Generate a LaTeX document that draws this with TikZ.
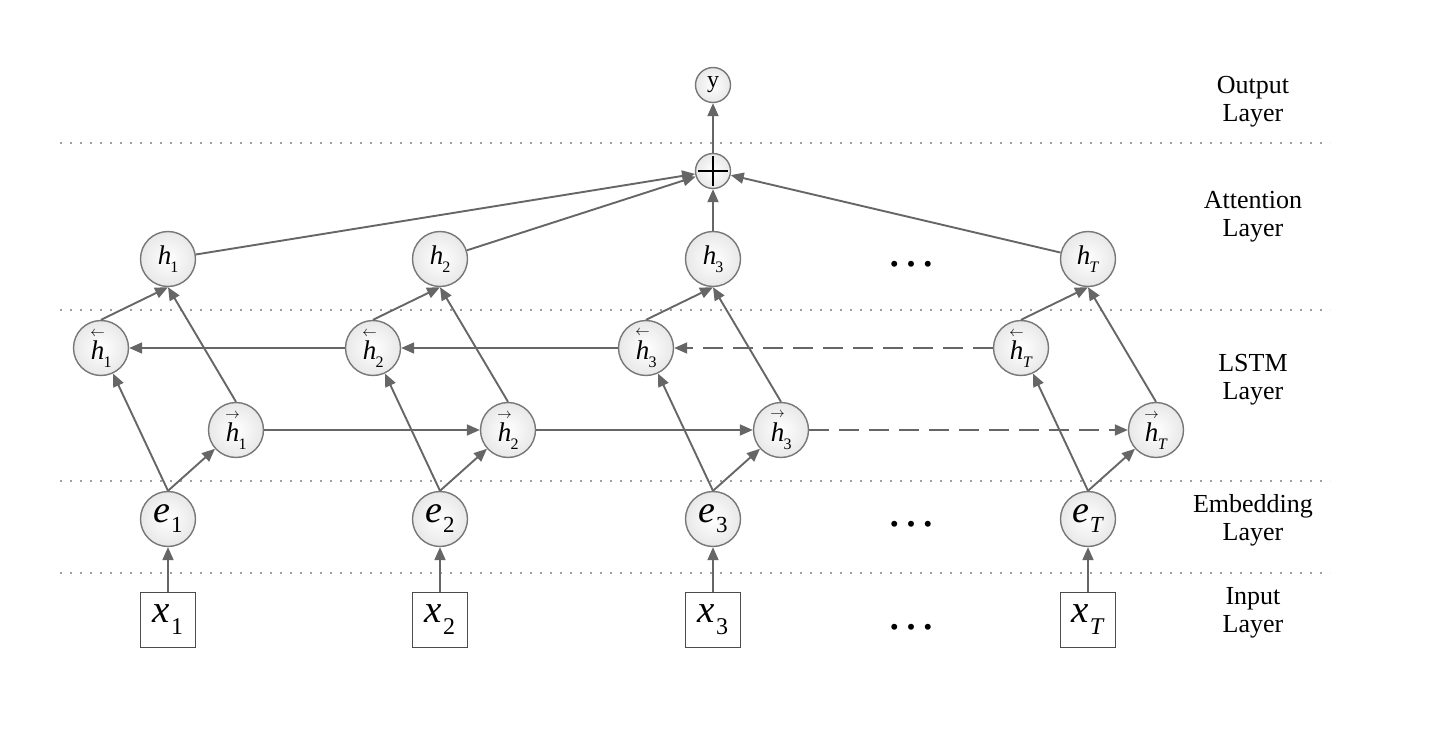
\documentclass[tikz,border=0pt]{standalone}
\usepackage{amsmath}
\usepackage{fontspec}
\setmainfont{Liberation Serif}
\usetikzlibrary{arrows.meta}
\definecolor{ln}{HTML}{666666}
\definecolor{cb}{HTML}{777777}
\newcommand{\hsub}[1]{\textit{h}\kern-1pt\raisebox{-8pt}{\fontsize{16}{16}\selectfont #1}}
\newcommand{\hbw}[1]{$\overset{\scriptscriptstyle\leftarrow}{\textit{h}}$\kern-1pt\raisebox{-8pt}{\fontsize{16}{16}\selectfont #1}}
\newcommand{\hfw}[1]{$\overset{\scriptscriptstyle\rightarrow}{\textit{h}}$\kern-1pt\raisebox{-8pt}{\fontsize{16}{16}\selectfont #1}}
\newcommand{\esub}[1]{\textit{e}\kern1pt\raisebox{-10pt}{\fontsize{23}{23}\selectfont #1}}
\newcommand{\xsub}[1]{\textit{x}\kern1pt\raisebox{-12pt}{\fontsize{24}{24}\selectfont #1}}
\begin{document}
\begin{tikzpicture}[x=1pt,y=-1pt,
  conn/.style={draw=ln, line width=1.9pt, -{Triangle[length=13pt,width=11pt]}},
  dconn/.style={conn, dash pattern=on 20pt off 10pt},
  cn/.style={circle, draw=cb, line width=1.4pt, inner color=white, outer color=gray!18, minimum size=55pt, inner sep=0pt, font=\fontsize{27}{28}\selectfont},
  en/.style={cn, font=\fontsize{38}{40}\selectfont},
  sn/.style={circle, draw=cb, line width=1.4pt, inner color=white, outer color=gray!18, minimum size=35pt, inner sep=0pt, font=\fontsize{24}{24}\selectfont},
  xn/.style={rectangle, draw=black!70, line width=1.3pt, fill=white, minimum size=55pt, inner sep=0pt, font=\fontsize{39}{40}\selectfont},
  sep/.style={draw=gray!75, line width=1.6pt, dash pattern=on 1.6pt off 8.4pt},
  lab/.style={align=center, font=\fontsize{26}{28}\selectfont},
  dots/.style={inner sep=0pt, font=\fontsize{50}{50}\selectfont}
]
\useasboundingbox (0,0) rectangle (1440,746);
% separators
\foreach \yy/\nm in {143/s1,310/s2,481/s3,573/s4}{
  \coordinate (\nm a) at (60,\yy);
  \coordinate (\nm b) at (1330,\yy);
  \draw[sep] (\nm a) -- (\nm b);
}
% labels
\node[lab] (lout) at (1253,102) {Output\\Layer};
\node[lab] (latt) at (1253,217) {Attention\\Layer};
\node[lab] (llstm) at (1253,380) {LSTM\\Layer};
\node[lab] (lemb) at (1253,520) {Embedding\\Layer};
\node[lab] (linp) at (1253,613) {Input\\Layer};
% top
\node[sn] (y) at (713,85) {y};
\node[sn, minimum size=35pt] (plus) at (713,171) {};
\draw[black, line width=2.6pt] ([xshift=-15pt]plus.center) -- ([xshift=15pt]plus.center);
\draw[black, line width=2.6pt] ([yshift=-15pt]plus.center) -- ([yshift=15pt]plus.center);
% columns
\foreach \c/\cx/\s in {1/168/1,2/440/2,3/713/3,T/1088/\textit{T}}{
  \node[cn] (h\c) at (\cx,259) {\hsub{\s}};
  \node[cn] (hb\c) at (\cx-67,348) {\hbw{\s}};
  \node[cn] (hf\c) at (\cx+68,430) {\hfw{\s}};
  \node[en] (e\c) at (\cx,519) {\esub{\s}};
  \node[xn] (x\c) at (\cx,620) {\xsub{\s}};
  \draw[conn] (x\c) -- (e\c);
  \draw[conn] (e\c.north) -- (hb\c);
  \draw[conn] (e\c.north) -- (hf\c);
  \draw[conn] (hb\c.north) -- (h\c.south);
  \draw[conn] (hf\c.north) -- (h\c.south);
  \draw[conn] (h\c) -- (plus);
}
\draw[conn] (plus) -- (y);
% recurrent
\draw[conn] (hb2) -- (hb1);
\draw[conn] (hb3) -- (hb2);
\draw[dconn] (hbT) -- (hb3);
\draw[conn] (hf1) -- (hf2);
\draw[conn] (hf2) -- (hf3);
\draw[dconn] (hf3) -- (hfT);
% ellipses
\node[dots] (d1) at (911,264) {…};
\node[dots] (d2) at (911,524) {…};
\node[dots] (d3) at (911,627) {…};
\end{tikzpicture}
\end{document}
